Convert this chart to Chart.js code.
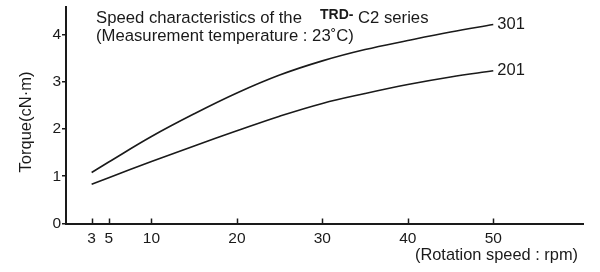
<!DOCTYPE html>
<html>
<head>
<meta charset="utf-8">
<script src="https://cdn.jsdelivr.net/npm/chart.js@4.4.0/dist/chart.umd.min.js"></script>
<style>
  html, body { margin: 0; padding: 0; background: #fff; }
  #wrap { width: 600px; height: 272px; }
</style>
</head>
<body>
<div id="wrap"><canvas id="torqueChart"></canvas></div>
<script>
// Rotation speed (rpm) where the curves were read
const speeds = [3, 5, 10, 15, 20, 25, 30, 35, 40, 45, 50];
// Torque (cN·m) per model
const torque301 = [1.08, 1.30, 1.84, 2.32, 2.76, 3.14, 3.44, 3.68, 3.87, 4.05, 4.21];
const torque201 = [0.83, 0.97, 1.31, 1.64, 1.96, 2.27, 2.54, 2.75, 2.94, 3.10, 3.23];
const seriesNames = ['301', '201'];
// Axis ticks
const xTicks = [3, 5, 10, 20, 30, 40, 50];
const yTicks = [0, 1, 2, 3, 4];

const FONT = '"Liberation Sans", Arial, Helvetica, sans-serif';
const INK = '#1a1a1a';

const toPoints = (ys) => speeds.map((x, i) => ({ x: x, y: ys[i] }));

// Draws inner x tick marks, curve names, heading and axis titles
const extrasPlugin = {
    id: 'extras',
    afterDraw(chart) {
        const ctx = chart.ctx;
        const xs = chart.scales.x;
        const area = chart.chartArea;
        ctx.save();

        // x tick marks point up into the plot
        ctx.strokeStyle = INK;
        ctx.lineWidth = 1.5;
        xTicks.forEach(v => {
            const px = Math.round(xs.getPixelForValue(v)) + 0.5;
            ctx.beginPath();
            ctx.moveTo(px, area.bottom);
            ctx.lineTo(px, area.bottom - 5);
            ctx.stroke();
        });

        // series names at the end of each curve
        ctx.fillStyle = INK;
        ctx.font = '16.5px ' + FONT;
        ctx.textBaseline = 'middle';
        ctx.textAlign = 'left';
        chart.data.datasets.forEach((ds, i) => {
            const meta = chart.getDatasetMeta(i);
            const last = meta.data[meta.data.length - 1];
            ctx.fillText(seriesNames[i], last.x + 4, last.y);
        });

        // heading
        ctx.textBaseline = 'alphabetic';
        ctx.font = '16.7px ' + FONT;
        ctx.fillText('Speed characteristics of the', 96, 23);
        ctx.font = 'bold 14px ' + FONT;
        ctx.fillText('TRD-', 320, 19);
        ctx.font = '16.7px ' + FONT;
        ctx.fillText('C2 series', 358, 23);
        ctx.fillText('(Measurement temperature : 23\u02daC)', 96, 41);

        // x axis title
        ctx.textAlign = 'right';
        ctx.textBaseline = 'middle';
        ctx.font = '16.4px ' + FONT;
        ctx.fillText('(Rotation speed : rpm)', 578, 255);

        // y axis title
        ctx.translate(26, 122);
        ctx.rotate(-Math.PI / 2);
        ctx.textAlign = 'center';
        ctx.font = '16.5px ' + FONT;
        ctx.fillText('Torque(cN\u00b7m)', 0, 0);
        ctx.restore();
    }
};

new Chart(document.getElementById('torqueChart'), {
    type: 'line',
    data: {
        datasets: [
            { label: seriesNames[0], data: toPoints(torque301) },
            { label: seriesNames[1], data: toPoints(torque201) }
        ]
    },
    options: {
        responsive: true,
        maintainAspectRatio: false,
        animation: false,
        layout: { padding: { top: 7, right: 17, left: 0, bottom: 0 } },
        elements: {
            line: { borderColor: INK, borderWidth: 1.6, tension: 0.4, fill: false },
            point: { radius: 0 }
        },
        plugins: {
            legend: { display: false },
            tooltip: { enabled: false }
        },
        scales: {
            x: {
                type: 'linear',
                min: 0,
                max: 60.5,
                afterBuildTicks: (scale) => { scale.ticks = xTicks.map(v => ({ value: v })); },
                afterFit: (scale) => {
                    scale.height = 48.5;
                    scale.paddingLeft = 0;
                    scale.paddingRight = 0;
                },
                grid: { display: false, drawTicks: false },
                border: { display: true, color: INK, width: 2 },
                ticks: {
                    color: INK,
                    font: { family: FONT, size: 15.5 },
                    padding: 6,
                    maxRotation: 0,
                    autoSkip: false
                }
            },
            y: {
                min: 0,
                max: 4.58,
                afterBuildTicks: (scale) => { scale.ticks = yTicks.map(v => ({ value: v })); },
                afterFit: (scale) => {
                    scale.width = 66;
                    scale.paddingTop = 0;
                    scale.paddingBottom = 0;
                },
                grid: { drawOnChartArea: false, drawTicks: true, tickLength: 4, color: INK, lineWidth: 1.5 },
                border: { display: true, color: INK, width: 2 },
                ticks: {
                    color: INK,
                    font: { family: FONT, size: 15.5 },
                    padding: 1
                }
            }
        }
    },
    plugins: [extrasPlugin]
});
</script>
</body>
</html>
